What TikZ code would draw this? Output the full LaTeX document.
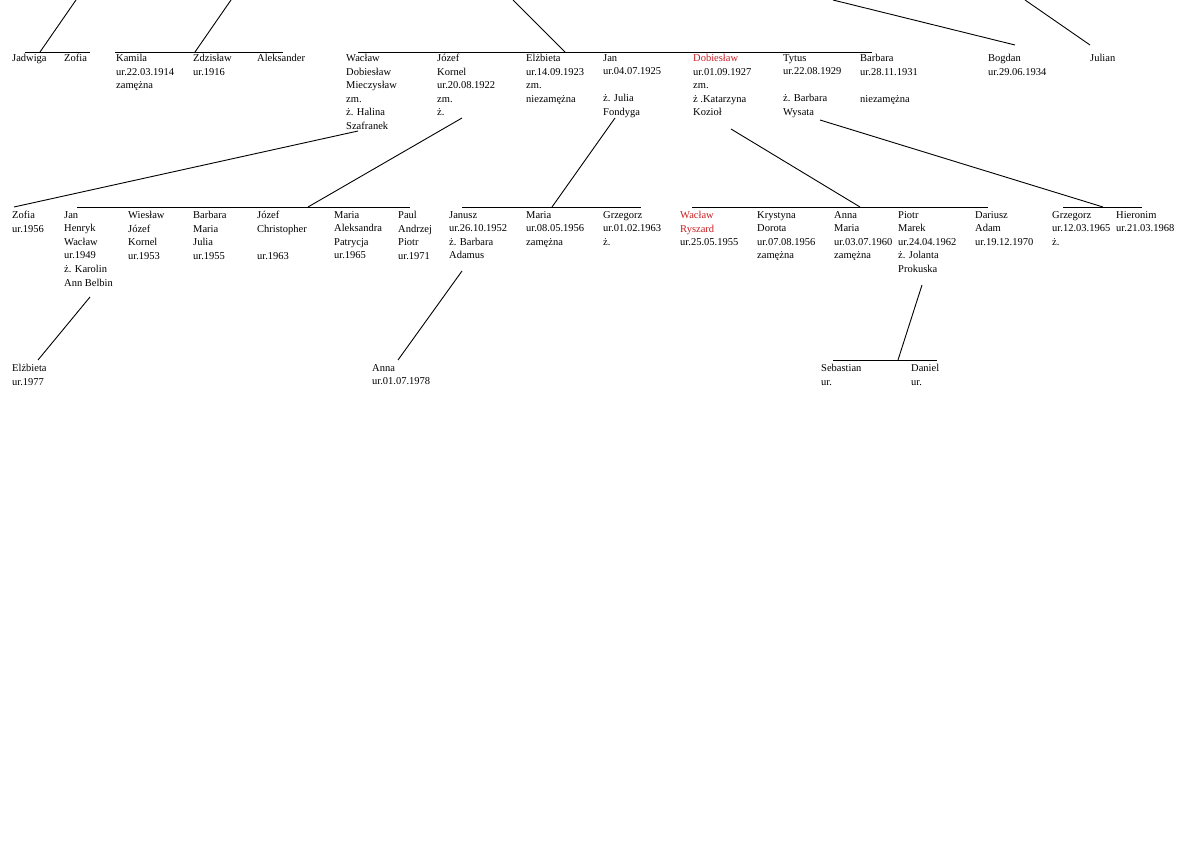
\documentclass[tikz,border=0pt]{standalone}
\usepackage{fontspec}
\setmainfont{Liberation Serif}
\definecolor{redname}{RGB}{200,30,35}
\begin{document}
\begin{tikzpicture}[x=1pt,y=-1pt,
  person/.style={anchor=north west,inner sep=0pt,align=left,font=\fontsize{10.5}{13.6}\selectfont},
  link/.style={draw,line width=0.9pt}]
\useasboundingbox (0,0) rectangle (1200,848);
% row 1
\foreach \n/\x/\t in {
 a1/12/{Jadwiga}, a2/64/{Zofia}, a3/116/{Kamila\\ur.22.03.1914\\zamężna},
 a4/193/{Zdzisław\\ur.1916}, a5/257/{Aleksander},
 b1/346/{Wacław\\Dobiesław\\Mieczysław\\zm.\\ż. Halina\\Szafranek},
 b2/437/{Józef\\Kornel\\ur.20.08.1922\\zm.\\ż.},
 b3/526/{Elżbieta\\ur.14.09.1923\\zm.\\niezamężna},
 b4/603/{Jan\\ur.04.07.1925\\\strut\\ż. Julia\\Fondyga},
 b6/783/{Tytus\\ur.22.08.1929\\\strut\\ż. Barbara\\Wysata},
 b7/860/{Barbara\\ur.28.11.1931\\\strut\\niezamężna},
 c1/988/{Bogdan\\ur.29.06.1934}, c2/1090/{Julian}}
 \node[person] (\n) at (\x,54) {\t};
\node[person] (b5) at (693,54) {\textcolor{redname}{Dobiesław}\\ur.01.09.1927\\zm.\\ż .Katarzyna\\Kozioł};
% row 2
\foreach \n/\x/\t in {
 d1/12/{Zofia\\ur.1956}, d2/64/{Jan\\Henryk\\Wacław\\ur.1949\\ż. Karolin\\Ann Belbin},
 d3/128/{Wiesław\\Józef\\Kornel\\ur.1953}, d4/193/{Barbara\\Maria\\Julia\\ur.1955},
 d5/257/{Józef\\Christopher\\\strut\\ur.1963}, d6/334/{Maria\\Aleksandra\\Patrycja\\ur.1965},
 d7/398/{Paul\\Andrzej\\Piotr\\ur.1971},
 e1/449/{Janusz\\ur.26.10.1952\\ż. Barbara\\Adamus}, e2/526/{Maria\\ur.08.05.1956\\zamężna},
 e3/603/{Grzegorz\\ur.01.02.1963\\ż.},
 f2/757/{Krystyna\\Dorota\\ur.07.08.1956\\zamężna}, f3/834/{Anna\\Maria\\ur.03.07.1960\\zamężna},
 f4/898/{Piotr\\Marek\\ur.24.04.1962\\ż. Jolanta\\Prokuska}, f5/975/{Dariusz\\Adam\\ur.19.12.1970},
 g1/1052/{Grzegorz\\ur.12.03.1965\\ż.}, g2/1116/{Hieronim\\ur.21.03.1968}}
 \node[person] (\n) at (\x,211) {\t};
\node[person] (f1) at (680,211) {\textcolor{redname}{Wacław}\\\textcolor{redname}{Ryszard}\\ur.25.05.1955};
% row 3
\node[person] (h1) at (12,364) {Elżbieta\\ur.1977};
\node[person] (h2) at (372,364) {Anna\\ur.01.07.1978};
\node[person] (h3) at (821,364) {Sebastian\\ur.};
\node[person] (h4) at (911,364) {Daniel\\ur.};
% bars
\draw[link] (25,52) -- (90,52);
\draw[link] (115,52) -- (283,52);
\draw[link] (358,52) -- (872,52);
\draw[link] (77,207) -- (410,207);
\draw[link] (462,207) -- (641,207);
\draw[link] (692,207) -- (988,207);
\draw[link] (1063,207) -- (1142,207);
\draw[link] (833,360) -- (937,360);
% connectors
\coordinate (t1) at (76,0); \coordinate (t2) at (231,0); \coordinate (t3) at (513,0);
\coordinate (t4) at (833,0); \coordinate (t5) at (1025,0);
\draw[link] (t1) -- (40,52);
\draw[link] (t2) -- (195,52);
\draw[link] (t3) -- (565,52);
\draw[link] (t4) -- (1015,45);
\draw[link] (t5) -- (1090,45);
\draw[link] (358,131) -- (14,207);
\draw[link] (462,118) -- (308,207);
\draw[link] (615,118) -- (552,207);
\draw[link] (731,129) -- (860,207);
\draw[link] (820,120) -- (1103,207);
\draw[link] (90,297) -- (38,360);
\draw[link] (462,271) -- (398,360);
\draw[link] (922,285) -- (898,360);
\end{tikzpicture}
\end{document}
